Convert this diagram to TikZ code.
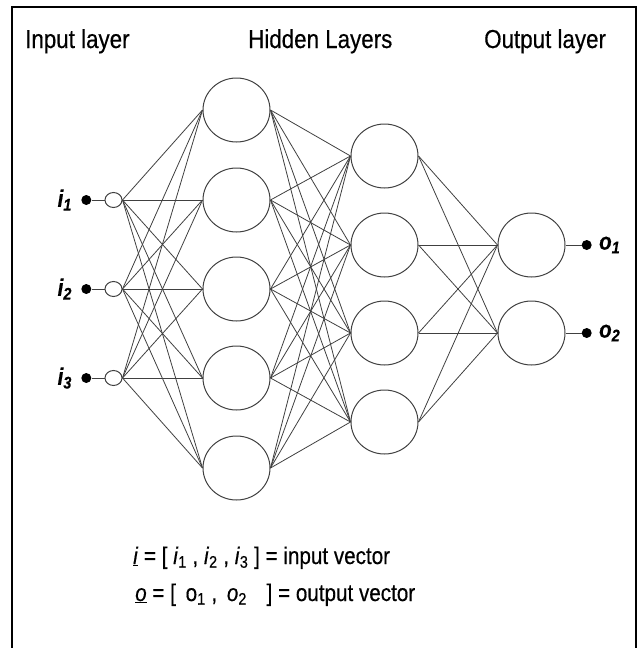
\documentclass[tikz,border=0pt]{standalone}
\usepackage{fontspec}
\setmainfont{Liberation Sans}[FakeStretch=0.95]
\newfontfamily\narrowsans{Liberation Sans}[FakeStretch=0.86, FakeBold=0.4]
\usepackage{tikz}
\usetikzlibrary{positioning,shapes.geometric}

\begin{document}
\begin{tikzpicture}[x=1pt, y=-1pt,
    neuron/.style={draw=black!75, ellipse, line width=1pt, minimum width=67pt, minimum height=64pt, inner sep=0pt},
    innode/.style={draw=black!75, ellipse, line width=1pt, minimum width=17pt, minimum height=15pt, inner sep=0pt},
    pin/.style={circle, fill=black, minimum size=10pt, inner sep=0pt},
    wire/.style={draw=black!75, line width=0.8pt},
    title/.style={anchor=base west, inner sep=0pt, font=\narrowsans\fontsize{26}{28}\selectfont},
    lbl/.style={inner sep=0pt, font=\narrowsans\fontsize{24}{26}\selectfont\bfseries\itshape},
    legend/.style={anchor=base west, inner sep=0pt, font=\narrowsans\fontsize{24}{26}\selectfont}
  ]
    \useasboundingbox (0,0) rectangle (643,648);
    \draw[line width=1.6pt] (12,648) -- (12,7) -- (636,7) -- (636,648);

    % layer titles
    \node[title] (tin) at (25,48) {Input layer};
    \node[title] (thid) at (248,48) {Hidden Layers};
    \node[title] (tout) at (484,48) {Output layer};

    % input layer
    \foreach \n/\y in {1/200,2/289,3/378} {
      \node[innode] (in\n) at (113.5,\y) {};
      \node[pin, left=13pt of in\n] (ip\n) {};
      \node[lbl, left=9pt of ip\n] (il\n) {i\textsubscript{\n}};
      \draw[wire] (ip\n) -- (in\n);
    }

    % hidden layers
    \foreach \n/\y in {1/110,2/200,3/289,4/378,5/468}
      \node[neuron] (ha\n) at (236.5,\y) {};
    \foreach \n/\y in {1/156,2/245,3/333,4/422}
      \node[neuron] (hb\n) at (384.5,\y) {};

    % output layer
    \foreach \n/\y in {1/245,2/333} {
      \node[neuron] (out\n) at (531.5,\y) {};
      \node[pin, right=16pt of out\n] (op\n) {};
      \node[lbl, right=7pt of op\n] (ol\n) {o\textsubscript{\n}};
      \draw[wire] (out\n) -- (op\n);
    }

    % connections
    \foreach \a in {1,...,3}
      \foreach \b in {1,...,5}
        \draw[wire] (in\a.east) -- (ha\b.west);
    \foreach \a in {1,...,5}
      \foreach \b in {1,...,4}
        \draw[wire] (ha\a.east) -- (hb\b.west);
    \foreach \a in {1,...,4}
      \foreach \b in {1,2}
        \draw[wire] (hb\a.east) -- (out\b.west);

    % vectors
    \node[legend] (vin) at (133,564) {\underline{\textit{i}} = [ \textit{i}\textsubscript{1} , \textit{i}\textsubscript{2} , \textit{i}\textsubscript{3} ] = input vector};
    \node[legend] (vout) at (135,601) {\underline{\textit{o}} = [\hspace{4pt} o\textsubscript{1} ,\hspace{4pt} \textit{o}\textsubscript{2} \hspace{14pt}] = output vector};
  \end{tikzpicture}
\end{document}
